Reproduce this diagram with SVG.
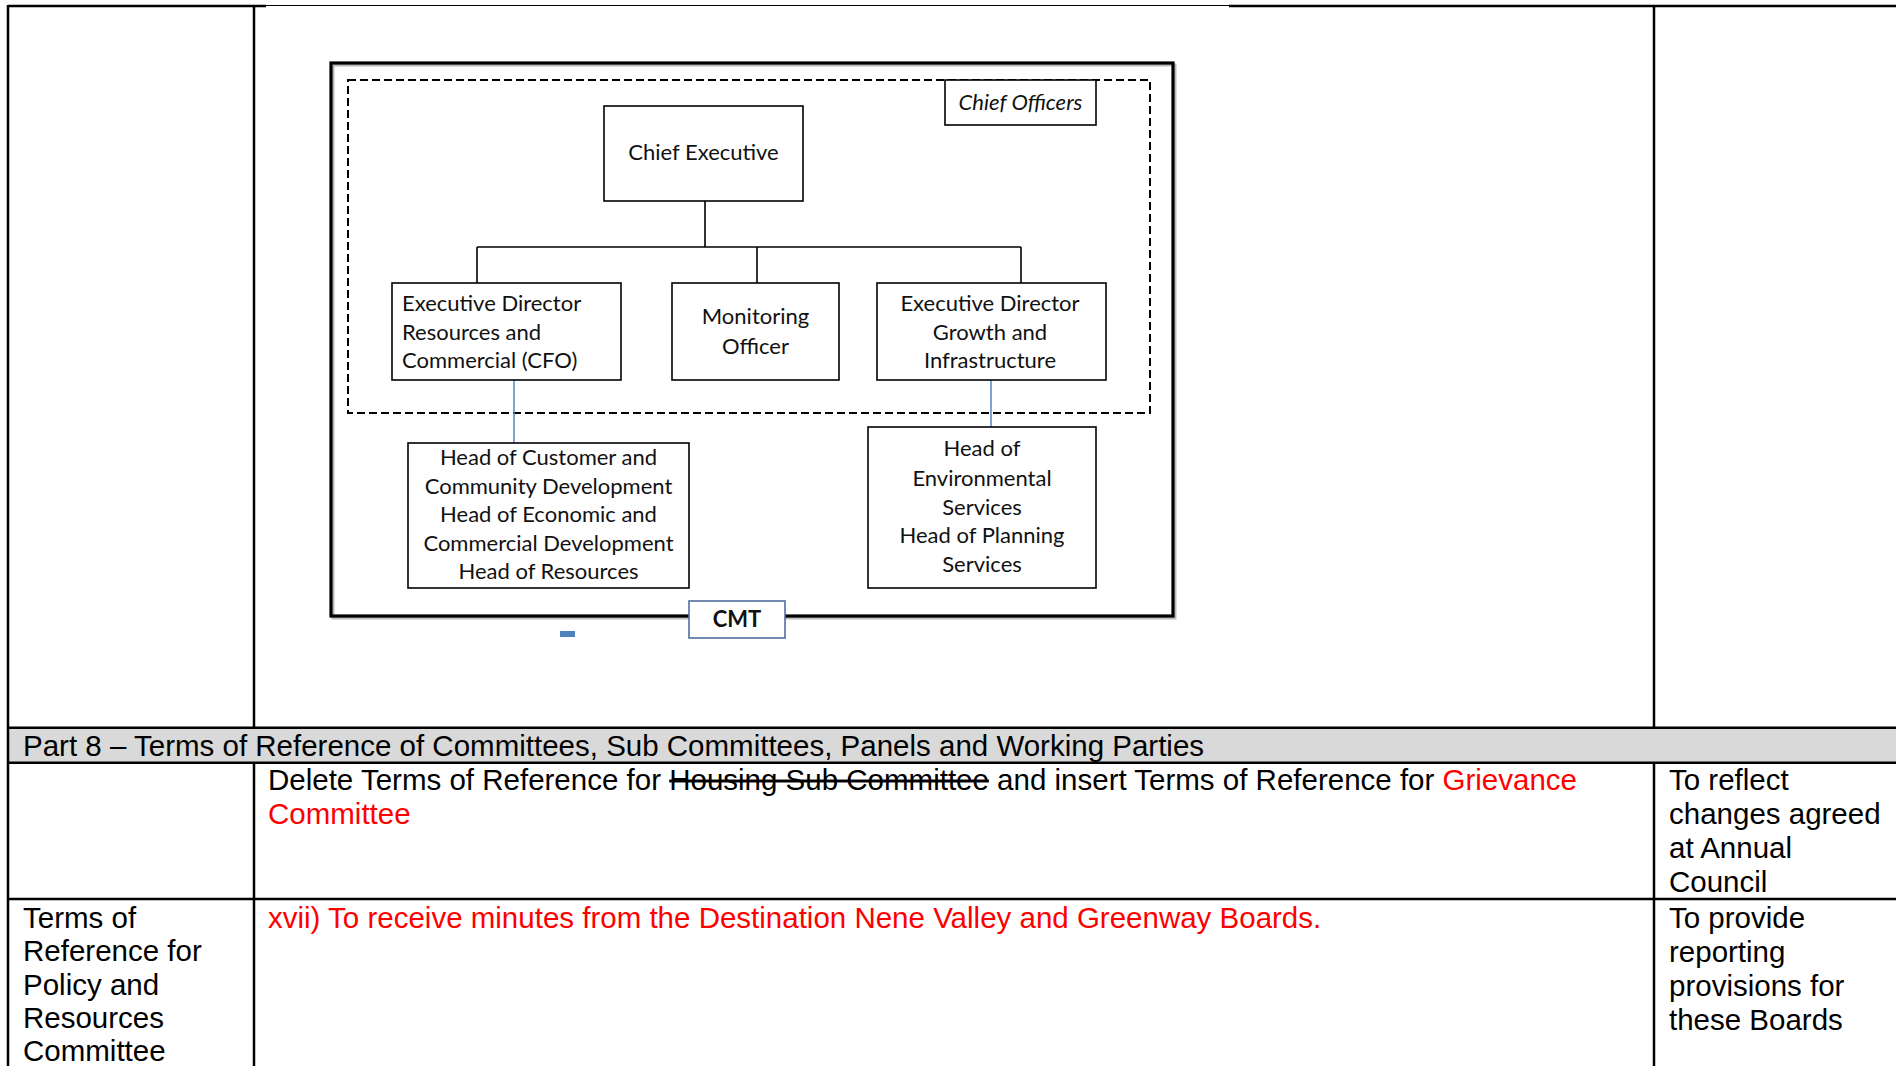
<svg xmlns="http://www.w3.org/2000/svg" width="1896" height="1066" viewBox="0 0 1896 1066">
<style>
  .tb{font-family:"Liberation Sans",Arial,sans-serif;font-size:29.5px;fill:#000}
  .red{fill:#ff0000}
  .strike{text-decoration:line-through}
  .grid{stroke:#000;stroke-width:2.5;fill:none}
  .thin{stroke:#000;stroke-width:1.2;fill:none}
  .box{fill:#fff;stroke:#000;stroke-width:1.6}
  .lbl{font-family:Lato,"Noto Sans",sans-serif;font-size:22px;fill:#111}
  .c{text-anchor:middle}
  .conn{stroke:#000;stroke-width:1.6;fill:none}
  .blue{stroke:#4a7ebb;stroke-width:1.4;fill:none}
</style>
<rect x="0" y="0" width="1896" height="1066" fill="#fff"/>

<!-- table -->
<g id="table">
  <rect x="8" y="727.7" width="1888" height="35" fill="#d9d9d9"/>
  <path class="grid" d="M8 6 H266 M1229 6 H1896"/>
  <path class="thin" d="M266 5.5 H1229"/>
  <path class="grid" d="M8 5 V1066 M254 6 V727.7 M1654 6 V727.7 M254 762.7 V1066 M1654 762.7 V1066 M8 727.7 H1896 M8 762.7 H1896 M8 899 H1896"/>
  <text class="tb" x="23" y="756">Part 8 – Terms of Reference of Committees, Sub Committees, Panels and Working Parties</text>
  <text class="tb" x="268" y="790">Delete Terms of Reference for <tspan class="strike">Housing Sub Committee</tspan> and insert Terms of Reference for <tspan class="red">Grievance</tspan></text>
  <text class="tb red" x="268" y="824">Committee</text>
  <text class="tb" x="1669" y="790">To reflect</text>
  <text class="tb" x="1669" y="824">changes agreed</text>
  <text class="tb" x="1669" y="858">at Annual</text>
  <text class="tb" x="1669" y="892">Council</text>
  <text class="tb" x="23" y="928">Terms of</text>
  <text class="tb" x="23" y="961">Reference for</text>
  <text class="tb" x="23" y="995">Policy and</text>
  <text class="tb" x="23" y="1028">Resources</text>
  <text class="tb" x="23" y="1061">Committee</text>
  <text class="tb red" x="268" y="928">xvii) To receive minutes from the Destination Nene Valley and Greenway Boards.</text>
  <text class="tb" x="1669" y="928">To provide</text>
  <text class="tb" x="1669" y="962">reporting</text>
  <text class="tb" x="1669" y="996">provisions for</text>
  <text class="tb" x="1669" y="1030">these Boards</text>
</g>

<!-- diagram frame -->
<g id="frame">
  <rect x="333" y="65" width="842" height="553" fill="none" stroke="#bbb" stroke-width="3"/>
  <rect x="331" y="63" width="842" height="553" fill="none" stroke="#000" stroke-width="3.2"/>
  <rect x="348" y="80" width="802" height="333" fill="none" stroke="#000" stroke-width="2" stroke-dasharray="8 4"/>
</g>

<g id="connectors">
  <path class="conn" d="M705 201 V247 M477 247 H1021 M477 247 V283 M757 247 V283 M1021 247 V283"/>
  <path class="blue" d="M514 380 V443 M991 380 V427"/>
</g>

<g id="n-chief-officers">
  <rect class="box" x="945" y="80" width="151" height="45"/>
  <text class="lbl c" x="1020.5" y="110" font-style="italic">Chief Officers</text>
</g>

<g id="n-chief-exec">
  <rect class="box" x="604" y="106" width="199" height="95"/>
  <text class="lbl c" x="703.5" y="160">Chief Executive</text>
</g>

<g id="n-cfo">
  <rect class="box" x="392" y="283" width="229" height="97"/>
  <text class="lbl" x="402" y="311">Executive Director</text>
  <text class="lbl" x="402" y="340">Resources and</text>
  <text class="lbl" x="402" y="368">Commercial (CFO)</text>
</g>

<g id="n-monitoring">
  <rect class="box" x="672" y="283" width="167" height="97"/>
  <text class="lbl c" x="755.5" y="324">Monitoring</text>
  <text class="lbl c" x="755.5" y="354">Officer</text>
</g>

<g id="n-growth">
  <rect class="box" x="877" y="283" width="229" height="97"/>
  <text class="lbl c" x="990" y="311">Executive Director</text>
  <text class="lbl c" x="990" y="340">Growth and</text>
  <text class="lbl c" x="990" y="368">Infrastructure</text>
</g>

<g id="n-head-customer">
  <rect class="box" x="408" y="443" width="281" height="145"/>
  <text class="lbl c" x="548.5" y="465">Head of Customer and</text>
  <text class="lbl c" x="548.5" y="493.5">Community Development</text>
  <text class="lbl c" x="548.5" y="522">Head of Economic and</text>
  <text class="lbl c" x="548.5" y="550.5">Commercial Development</text>
  <text class="lbl c" x="548.5" y="579">Head of Resources</text>
</g>

<g id="n-head-env">
  <rect class="box" x="868" y="427" width="228" height="161"/>
  <text class="lbl c" x="982" y="456">Head of</text>
  <text class="lbl c" x="982" y="486">Environmental</text>
  <text class="lbl c" x="982" y="514.5">Services</text>
  <text class="lbl c" x="982" y="543">Head of Planning</text>
  <text class="lbl c" x="982" y="572">Services</text>
</g>

<g id="n-cmt">
  <rect x="689" y="601" width="96" height="37" fill="#fff" stroke="#4f6f9f" stroke-width="1.6"/>
  <text class="lbl c" x="737" y="627" font-weight="bold" font-size="20">CMT</text>
</g>

<rect id="marker-small" x="560" y="631" width="15" height="6" fill="#4f81bd"/>
</svg>
